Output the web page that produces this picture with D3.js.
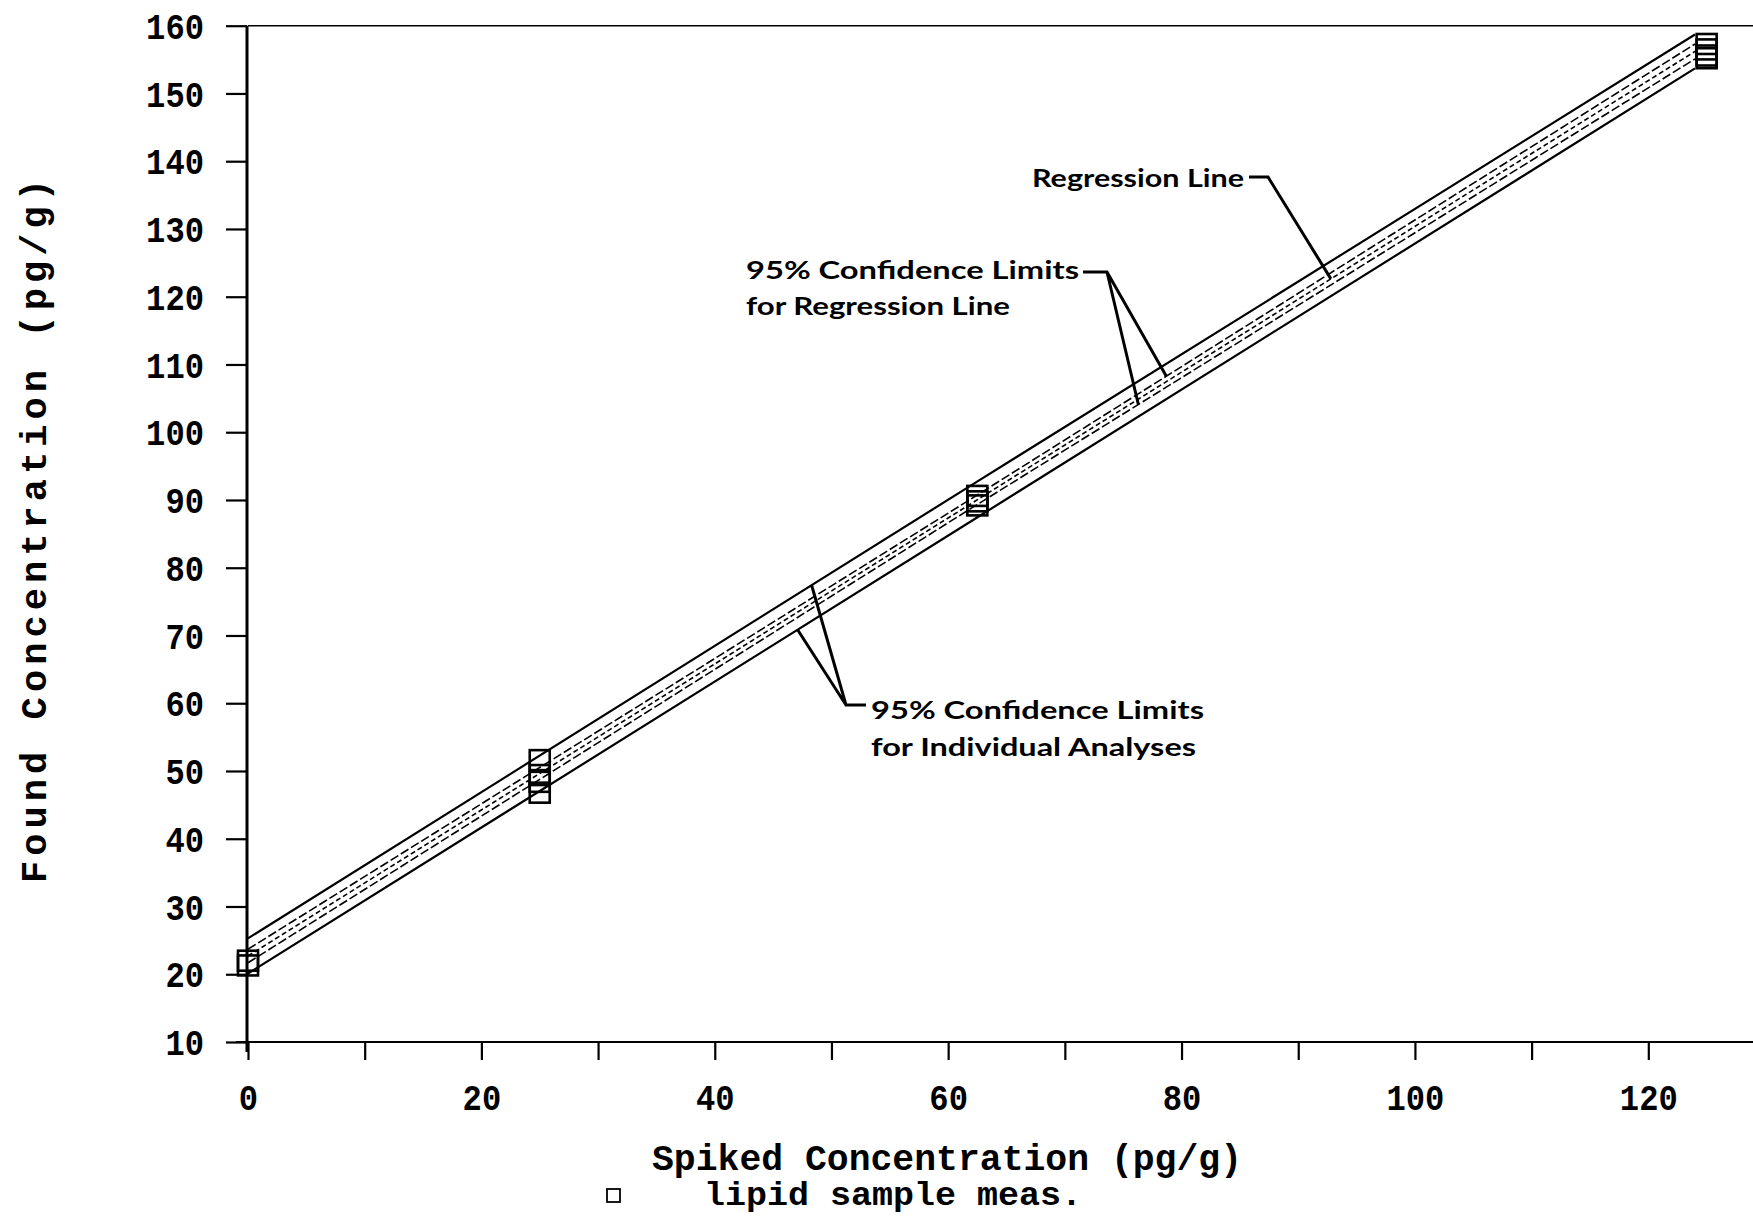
<!DOCTYPE html>
<html><head><meta charset="utf-8">
<script src="https://cdn.jsdelivr.net/npm/d3@7"></script>
<style>body{margin:0;background:#fff}svg{display:block}</style>
</head><body><svg id="c" width="1753" height="1219"></svg>
<script>
// ---- data ----
const xTicks = [0,10,20,30,40,50,60,70,80,90,100,110,120];
const xTickLabels = ["0","","20","","40","","60","","80","","100","","120"];
const yTicks = [10,20,30,40,50,60,70,80,90,100,110,120,130,140,150,160];
const yTickLabels = ["10","20","30","40","50","60","70","80","90","100","110","120","130","140","150","160"];

const lineX = [0, 62, 124];
const regressionY = [22.7, 89.5, 156.2];
const regCIUpperY = [23.7, 90.2, 157.3];
const regCILowerY = [21.7, 88.8, 155.1];
const indCIUpperY = [25.3, 92.2, 158.7];
const indCILowerY = [20.1, 86.9, 153.7];

const sampleX = [0, 0, 25, 25, 25, 25, 62.5, 62.5, 62.5, 125, 125, 125, 125];
const sampleY = [21.3, 22.0, 51.6, 49.4, 48.4, 46.8, 90.6, 89.8, 89.2, 157.3, 156.5, 155.6, 155.2];

const xTitle = "Spiked Concentration (pg/g)";
const yTitle = "Found Concentration (pg/g)";
const legendLabel = "lipid sample meas.";

// ---- layout ----
const svg = d3.select("#c");
const x = d3.scaleLinear().domain([0,130]).range([248, 1765]);
const y = d3.scaleLinear().domain([10,160]).range([1042, 25.7]);
const mono = "'Liberation Mono', 'Courier New', monospace";
const sans = "Lato, 'Open Sans', sans-serif";

// top frame line
svg.append("line").attr("x1", x(0)).attr("x2", 1753).attr("y1", y(160)).attr("y2", y(160))
  .attr("stroke","#000").attr("stroke-width",1.6);

function styleTick(sel){
  sel.attr("font-family",mono).attr("font-weight","bold").attr("font-size",37).attr("fill","#000")
    .each(function(){
      const t = d3.select(this).text();
      if (t.length) d3.select(this).attr("textLength", t.length*19.3).attr("lengthAdjust","spacingAndGlyphs");
    });
}

// x axis
const xAxis = d3.axisBottom(x).tickValues(xTicks).tickSize(18).tickSizeOuter(0)
  .tickFormat((d,i)=>xTickLabels[i]);
const gx = svg.append("g").attr("transform",`translate(0,${y(10)})`).call(xAxis);
gx.select(".domain").attr("d", `M236,0H1753`).attr("stroke-width",2);
gx.selectAll(".tick line").attr("stroke-width",2.2);
gx.selectAll(".tick text").call(styleTick).attr("dy",0).attr("y",68);

// y axis
const yAxis = d3.axisLeft(y).tickValues(yTicks).tickSize(21).tickSizeOuter(0)
  .tickFormat((d,i)=>yTickLabels[i]);
const gy = svg.append("g").attr("transform",`translate(${x(0)-1},0)`).call(yAxis);
gy.select(".domain").attr("d", `M0,${y(160)}V${y(10)+10}`).attr("stroke-width",3);
gy.selectAll(".tick line").attr("stroke-width",2.2);
gy.selectAll(".tick text").call(styleTick).attr("x",-43).attr("dy","0.34em");

// lines
const lineGen = d3.line().x(d=>x(d[0])).y(d=>y(d[1]));
const series = [
  {ys: indCIUpperY, w: 2.2, dash: null},
  {ys: indCILowerY, w: 2.2, dash: null},
  {ys: regCIUpperY, w: 1.6, dash: "9,3"},
  {ys: regCILowerY, w: 1.6, dash: "9,3"},
  {ys: regressionY, w: 1.6, dash: "5,3"}
];
series.forEach(s=>{
  svg.append("path").datum(lineX.map((v,i)=>[v, s.ys[i]])).attr("d", lineGen)
    .attr("fill","none").attr("stroke","#000").attr("stroke-width", s.w)
    .attr("stroke-dasharray", s.dash);
});

// sample markers
svg.append("g").selectAll("rect").data(sampleX.map((v,i)=>[v, sampleY[i]])).join("rect")
  .attr("x", d=>x(d[0])-10).attr("y", d=>y(d[1])-10).attr("width",20).attr("height",20)
  .attr("fill","none").attr("stroke","#000").attr("stroke-width",2.6);

// helper: y on a series at given x
function yOn(ys, xv){ return d3.scaleLinear().domain(lineX).range(ys)(xv); }

// annotations
function ann(lines, x0, baselines, widths){
  lines.forEach((t,i)=>{
    svg.append("text").attr("x",x0).attr("y",baselines[i]).text(t)
      .attr("font-family",sans).attr("font-weight","bold").attr("font-size",25)
      .attr("textLength",widths[i]).attr("lengthAdjust","spacingAndGlyphs").attr("fill","#000");
  });
}
const conn = svg.append("g").attr("stroke","#000").attr("stroke-width",3).attr("fill","none");

ann(["Regression Line"], 1032, [187], [212]);
conn.append("path").attr("d", `M1249,177H1268L${x(92.8)},${y(yOn(regressionY,92.8))}`);

ann(["95% Confidence Limits","for Regression Line"], 746, [279,315], [333,264]);
conn.append("path").attr("d", `M1083,272H1107L${x(78.7)},${y(yOn(regCIUpperY,78.7))}M1107,272L${x(76.3)},${y(yOn(regCILowerY,76.3))}`);

ann(["95% Confidence Limits","for Individual Analyses"], 871, [719,756], [333,325]);
conn.append("path").attr("d", `M866,705H846L${x(48.3)},${y(yOn(indCIUpperY,48.3))}M846,705L${x(47.1)},${y(yOn(indCILowerY,47.1))}`);

// axis titles
svg.append("text").attr("x",652).attr("y",1170).text(xTitle)
  .attr("font-family",mono).attr("font-weight","bold").attr("font-size",36)
  .attr("textLength",590).attr("lengthAdjust","spacingAndGlyphs");
svg.append("text").attr("transform","translate(46,883) rotate(-90)").text(yTitle)
  .attr("font-family",mono).attr("font-weight","bold").attr("font-size",37)
  .attr("textLength",704).attr("lengthAdjust","spacing");

// legend
svg.append("rect").attr("x",607).attr("y",1189).attr("width",13).attr("height",13)
  .attr("fill","none").attr("stroke","#000").attr("stroke-width",1.8);
svg.append("text").attr("x",704).attr("y",1205).text(legendLabel)
  .attr("font-family",mono).attr("font-weight","bold").attr("font-size",33)
  .attr("textLength",378).attr("lengthAdjust","spacingAndGlyphs");
</script></body></html>
